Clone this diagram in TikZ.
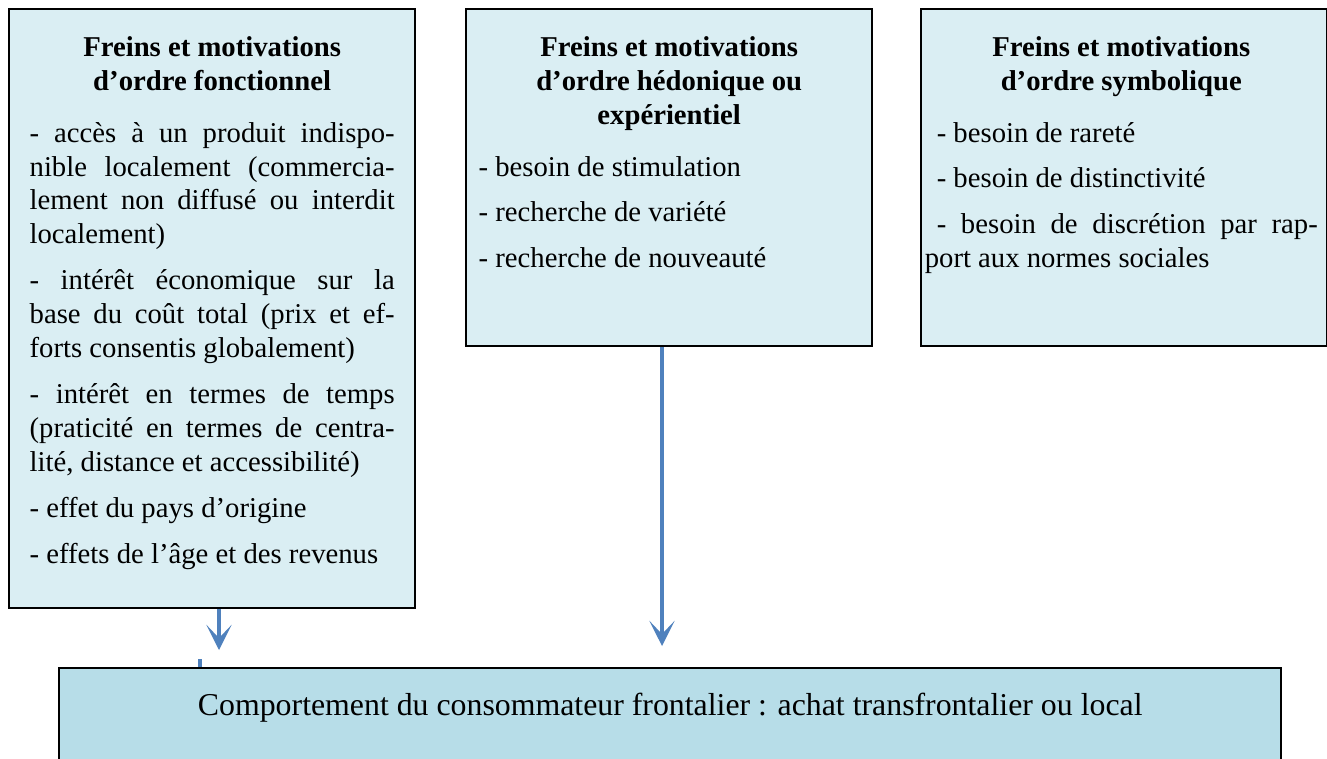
\documentclass[tikz,border=0pt]{standalone}
\usepackage{fontspec}
\setmainfont{Liberation Serif}
\usetikzlibrary{arrows.meta,positioning}

\definecolor{paleblue}{HTML}{DAEEF3}
\definecolor{midblue}{HTML}{B7DDE8}
\definecolor{arrowblue}{HTML}{4F81BD}

\newcommand{\paneltitle}[1]{{\centering\bfseries #1\par}\vspace{7.5pt}}
\newcommand{\nextitem}{\par\vspace{5pt}}

\begin{document}
\begin{tikzpicture}[
  x=0.418pt, y=-0.418pt,
  panel/.style={rectangle, draw, line width=1pt, fill=paleblue, anchor=north west, minimum width=169.7pt, inner sep=0pt},
  content/.style={anchor=north, inner sep=0pt, align=justify, font=\fontsize{12pt}{14.2pt}\selectfont},
  flow/.style={draw=arrowblue, line width=1.7pt, -{Stealth[length=10.5pt,width=10.5pt,inset=5.5pt]}},
]
  \useasboundingbox (0,0) rectangle (1327,758);
  \clip (0,0) rectangle (1327,758);

  % the three panels
  \node[panel, minimum height=250.4pt] (fonc) at (8,8) {};
  \node[panel, minimum height=140.9pt] (hedo) at (465,8) {};
  \node[panel, minimum height=140.9pt] (symb) at (920,8) {};

  % bottom box, cut off by the page edge
  \node[panel, fill=midblue, minimum width=510.8pt, minimum height=55.6pt] (comp) at (58,667) {};

  \node[content, text width=152.6pt, below=11.6pt of fonc.north] (foncText) {%
    \paneltitle{Freins et motivations\\ d’ordre fonctionnel}
    - accès à un produit indispo-\linebreak nible localement (commercia-\linebreak lement non diffusé ou interdit\linebreak localement)\nextitem
    - intérêt économique sur la\linebreak base du coût total (prix et ef-\linebreak forts consentis globalement)\nextitem
    - intérêt en termes de temps\linebreak (praticité en termes de centra-\linebreak lité, distance et accessibilité)\nextitem
    - effet du pays d’origine\nextitem
    - effets de l’âge et des revenus
  };

  \node[content, text width=159.3pt, below=11.6pt of hedo.north] (hedoText) {%
    \paneltitle{Freins et motivations\\ d’ordre hédonique ou\\ expérientiel}
    - besoin de stimulation\nextitem
    - recherche de variété\nextitem
    - recherche de nouveauté
  };

  \node[content, text width=164.3pt, below=11.6pt of symb.north, xshift=-1.2pt] (symbText) {%
    \paneltitle{Freins et motivations\\ d’ordre symbolique}
    \parindent=5pt
    - besoin de rareté\nextitem
    - besoin de distinctivité\nextitem
    - besoin de discrétion par rap-\linebreak port aux normes sociales
  };

  \node[content, align=center, font=\fontsize{13.3pt}{16pt}\selectfont, below=10.8pt of comp.north] (compText)
    {Comportement du consommateur frontalier : achat transfrontalier ou local};

  % arrows
  \coordinate (tipA) at (219,650);
  \coordinate (tipB) at (662,646);
  \coordinate (stub) at (200,659);
  \draw[flow] (fonc.south -| tipA) -- (tipA);
  \draw[flow] (hedo.south -| tipB) -- (tipB);
  \draw[arrowblue, line width=1.7pt] (stub) -- (stub |- comp.north);
\end{tikzpicture}
\end{document}
